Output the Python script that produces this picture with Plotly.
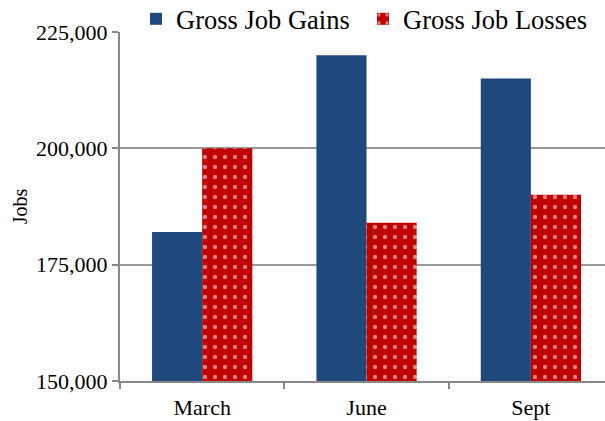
import plotly.graph_objects as go

categories = ["March", "June", "Sept"]
gains = [182000, 220000, 215000]
losses = [200000, 184000, 190000]
tick_vals = [150000, 175000, 200000, 225000]
tick_text = ["150,000", "175,000", "200,000", "225,000"]

fig = go.Figure()
fig.add_trace(go.Bar(
    x=categories, y=gains, name="Gross Job Gains",
    marker=dict(color="#1F497D", line=dict(width=0)),
))
fig.add_trace(go.Bar(
    x=categories, y=losses, name="Gross Job Losses",
    marker=dict(color="#C00000", line=dict(width=0),
                pattern=dict(shape=".", fgcolor="white", bgcolor="#C00000",
                             size=10, solidity=0.15, fillmode="overlay")),
))

fig.update_layout(
    width=605, height=421,
    margin=dict(l=120, r=0, t=32, b=40, autoexpand=False),
    paper_bgcolor="white", plot_bgcolor="white",
    barmode="group", bargap=0.39, bargroupgap=0,
    font=dict(family="Liberation Serif", color="black"),
    showlegend=True,
    legend=dict(orientation="h", x=0.033, y=1.037, xanchor="left", yanchor="middle",
                font=dict(size=26.5, family="Liberation Serif"),
                entrywidth=182, entrywidthmode="pixels",
                itemwidth=30, tracegroupgap=0, bgcolor="rgba(0,0,0,0)"),
    xaxis=dict(
        range=[-0.5, 2.451],
        showline=True, linecolor="#888888", linewidth=2,
        ticks="outside", tickson="boundaries", ticklen=6, tickcolor="#888888", tickwidth=2,
        tickfont=dict(size=22, family="Liberation Serif"),
        ticklabelstandoff=6,
        showgrid=False,
    ),
    yaxis=dict(
        range=[150000, 225000],
        tickvals=tick_vals, ticktext=tick_text,
        showline=True, linecolor="#888888", linewidth=2,
        ticks="outside", ticklen=6, tickcolor="#888888", tickwidth=2,
        showgrid=True, gridcolor="#999999", gridwidth=2,
        tickfont=dict(size=22, family="Liberation Serif"),
        title=dict(text="Jobs", font=dict(size=20, family="Liberation Serif"), standoff=3),
        zeroline=False,
    ),
)

fig.write_html("out.html", config={"displayModeBar": False},
               post_script="document.body.style.margin='0';")
